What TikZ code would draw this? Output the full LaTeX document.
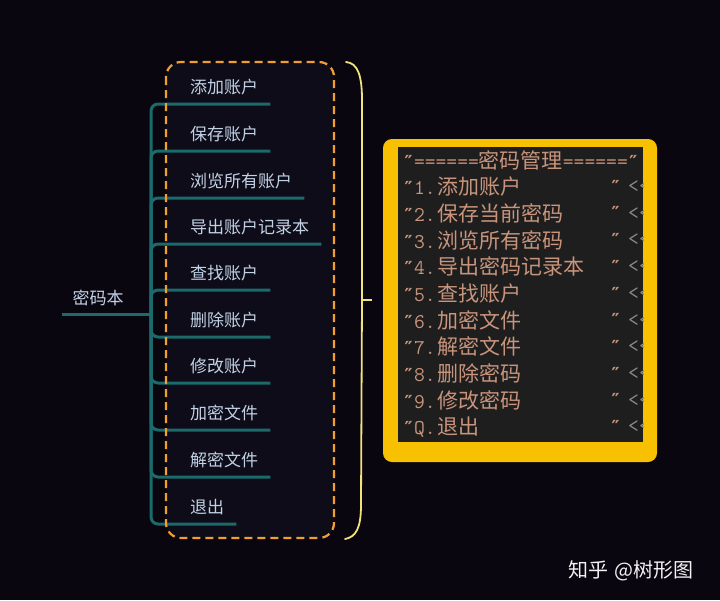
\documentclass[tikz,border=0pt]{standalone}
\usepackage{fontspec}
\setmainfont{Noto Sans CJK SC}
\newfontfamily\cjk{Noto Sans CJK SC}
\newfontfamily\qfont{DejaVu Sans Mono}
\newcommand{\qmark}{{\fontsize{18}{18}\selectfont\qfont\bfseries ″}}
\definecolor{bgdark}{HTML}{0A0610}
\definecolor{panelfill}{HTML}{0E0C18}
\definecolor{trunkteal}{HTML}{1B6A6C}
\definecolor{dashorange}{HTML}{F0A030}
\definecolor{braceyellow}{HTML}{F2E27A}
\definecolor{termyellow}{HTML}{F7C000}
\definecolor{termbg}{HTML}{1E1E1E}
\definecolor{termtan}{HTML}{C8947C}
\definecolor{termgray}{HTML}{8A8A8A}
\definecolor{leafblue}{HTML}{C2D2E6}

\begin{document}
\begin{tikzpicture}[x=1pt, y=-1pt,
    branch/.style={draw=trunkteal, line width=3pt, rounded corners=7pt},
    leaf/.style={anchor=west, inner sep=0pt, text=leafblue, font=\fontsize{17}{17}\selectfont\cjk},
    termline/.style={anchor=west, inner sep=0pt, text=termtan, font=\fontsize{21}{21}\selectfont\cjk}]
    % Background
    \fill[bgdark] (0,0) rectangle (720,600);
    \useasboundingbox (0,0) rectangle (720,600);

    % Dashed panel around the branches
    \fill[panelfill, rounded corners=15pt] (166,62) rectangle (334,538);

    % Root and trunk
    \node[leaf, anchor=center] (root) at (98,298) {密码本};
    \coordinate (hub) at (151,314);
    \coordinate (rootend) at (62,314);
    \draw[branch] (rootend) -- (hub);

    % Branches
    \foreach \i/\yy/\txt in {1/87/添加账户, 2/134/保存账户, 3/181/浏览所有账户,
        4/227/导出账户记录本, 5/273/查找账户, 6/320/删除账户, 7/366/修改账户,
        8/413/加密文件, 9/460/解密文件, 10/507/退出} {
        \node[leaf] (c\i) at (190,\yy) {\txt};
        \draw[branch] (hub) |- ([xshift=12pt,yshift=-17pt]c\i.east);
    }

    \draw[dashorange, line width=2.2pt, dash pattern=on 8pt off 5pt, rounded corners=15pt]
        (166,62) rectangle (334,538);

    % Brace
    \draw[braceyellow, line width=1.8pt, line cap=round]
        (346,62) .. controls (358,63) and (362,76) .. (362,100) -- (362,300)
        -- (361,505) .. controls (361,528) and (356,537) .. (345,539);
    \draw[braceyellow, line width=1.8pt] (362,300) -- (372,300);

    % Terminal menu
    \fill[termyellow, rounded corners=9pt] (383,139) rectangle (657,462);
    \fill[termbg] (398,147) rectangle (643,442);
    \node[termline] (head) at (403,160)
        {\qmark{\ttfamily ======}密码管理{\ttfamily ======}\qmark};
    \begin{scope}
        \clip (398,147) rectangle (643,442);
        \foreach \j/\k/\txt in {1/1/添加账户, 2/2/保存当前密码, 3/3/浏览所有密码,
            4/4/导出密码记录本, 5/5/查找账户, 6/6/加密文件, 7/7/解密文件,
            8/8/删除密码, 9/9/修改密码, 10/Q/退出} {
            \pgfmathsetmacro\yy{160+26.7*\j}
            \node[termline] (t\j) at (403,\yy) {\qmark{\ttfamily \k.}\hspace{2pt}\txt};
            \node[termline] (q\j) at (610,\yy) {\qmark};
            \node[termline, text=termgray, font=\fontsize{21}{21}\selectfont\ttfamily] (g\j) at (628,\yy) {<<};
        }
    \end{scope}

    % Watermark
    \node[anchor=west, inner sep=0pt, text=white!90!gray, font=\fontsize{20}{20}\selectfont\cjk]
        (mark) at (568,571) {知乎\hspace{6pt}@树形图};
\end{tikzpicture}
\end{document}
